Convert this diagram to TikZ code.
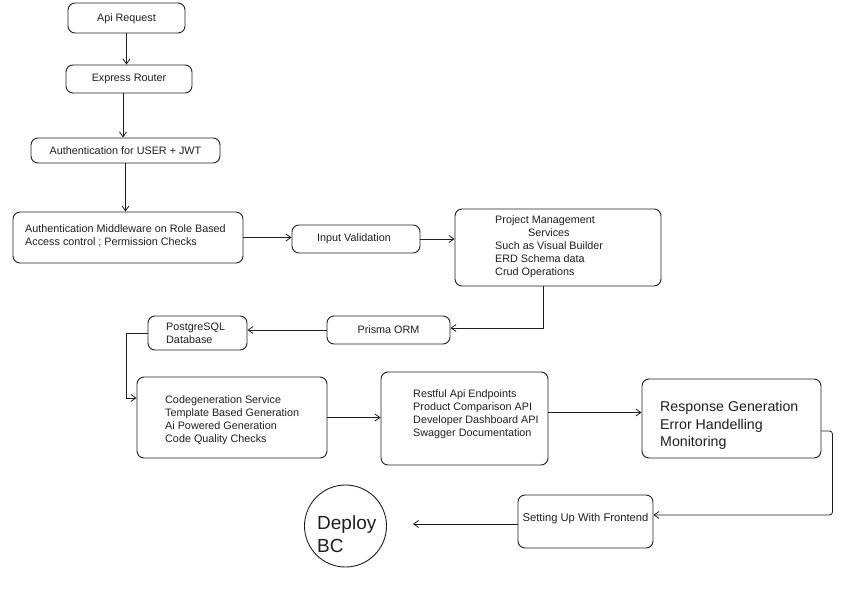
\documentclass[tikz,border=0pt]{standalone}
\usepackage{fontspec}
\setmainfont{Liberation Sans}
\usetikzlibrary{arrows.meta}
\definecolor{ink}{HTML}{1E1E1E}
\begin{document}
\begin{tikzpicture}[x=1pt,y=-1pt,
  stepbox/.style={draw=ink, line width=0.9pt, rounded corners=7pt, rectangle, inner sep=0pt},
  roundbox/.style={draw=ink, line width=0.9pt, circle, inner sep=0pt},
  txt/.style={text=ink, inner sep=0pt, font=\fontsize{10.8}{13}\selectfont, align=left},
  arr/.style={draw=ink, line width=0.8pt, -{Straight Barb[length=5pt,width=7pt]}}]
\useasboundingbox (0,0) rectangle (868,592);

% request pipeline
\node[stepbox, minimum width=117pt, minimum height=30pt] (api) at (126.5,18) {};
\node[txt] (api-t) at (126.5,19) {Api Request};
\node[stepbox, minimum width=126pt, minimum height=28pt] (express) at (129,79) {};
\node[txt] (express-t) at (129,79) {Express Router};
\node[stepbox, minimum width=189pt, minimum height=25pt] (jwt) at (125.5,150.5) {};
\node[txt] (jwt-t) at (125.5,150.5) {Authentication for USER + JWT};
\node[stepbox, minimum width=230pt, minimum height=51pt] (rbac) at (128,237.5) {};
\node[txt, anchor=west] (rbac-t) at (25,235.5) {Authentication Middleware on Role Based\\Access control ; Permission Checks};
\node[stepbox, minimum width=128pt, minimum height=28pt] (valid) at (356,239) {};
\node[txt] (valid-t) at (354,238.5) {Input Validation};
\node[stepbox, minimum width=206pt, minimum height=77pt] (pm) at (558,247.5) {};
\node[txt, anchor=west] (pm-t) at (495,246.5) {Project Management\\\hspace*{33pt}Services\\Such as Visual Builder\\ERD Schema data\\Crud Operations};

% data layer
\node[stepbox, minimum width=123pt, minimum height=28pt] (prisma) at (388.5,330) {};
\node[txt] (prisma-t) at (388.5,330) {Prisma ORM};
\node[stepbox, minimum width=99pt, minimum height=34pt] (pg) at (197.5,333) {};
\node[txt, anchor=west] (pg-t) at (166,333.5) {PostgreSQL\\Database};

% services
\node[stepbox, minimum width=190pt, minimum height=81pt] (codegen) at (232,417.5) {};
\node[txt, anchor=west] (codegen-t) at (165,420.5) {Codegeneration Service\\Template Based Generation\\Ai Powered Generation\\Code Quality Checks};
\node[stepbox, minimum width=167pt, minimum height=93pt] (rest) at (464.5,418.5) {};
\node[txt, anchor=west] (rest-t) at (413,414.5) {Restful Api Endpoints\\Product Comparison API\\Developer Dashboard API\\Swagger Documentation};
\node[stepbox, minimum width=179pt, minimum height=79pt] (resp) at (731.5,418.5) {};
\node[txt, anchor=west, font=\fontsize{14.2}{17.5}\selectfont] (resp-t) at (660,425.5) {Response Generation\\Error Handelling\\Monitoring};

% delivery
\node[stepbox, minimum width=135pt, minimum height=53pt] (setup) at (585.5,521.5) {};
\node[txt, font=\fontsize{11.2}{13}\selectfont] (setup-t) at (585.5,518.5) {Setting Up With Frontend};
\node[roundbox, minimum size=82pt] (deploy) at (345.5,526) {};
\node[txt, anchor=west, font=\fontsize{19}{23}\selectfont] (deploy-t) at (317,534) {Deploy\\BC};

% connectors
\draw[arr] (api.south) -- (api.south |- express.north);
\draw[arr] ([xshift=-6pt]express.south) -- ([xshift=-6pt]express.south |- jwt.north);
\draw[arr] (jwt.south) -- (jwt.south |- rbac.north);
\draw[arr] (rbac.east) -- (rbac.east -| valid.west);
\draw[arr] (valid.east) -- (valid.east -| pm.west);
\draw[arr] ([xshift=-15pt]pm.south) |- ([yshift=2pt]prisma.east);
\draw[arr] (prisma.west) -- (prisma.west -| pg.east);
\draw[arr] (pg.west) -- ++(-21,0) |- ([yshift=19.5pt]codegen.west);
\draw[arr] (codegen.east) -- (codegen.east -| rest.west);
\draw[arr] ([yshift=6pt]rest.east) -- ([yshift=6pt]rest.east -| resp.west);
\draw[arr, rounded corners=3pt] ([yshift=-12.5pt]resp.east) -- ++(11,0) |- ([yshift=6.5pt]setup.east);
\draw[arr, shorten >=26pt] ([yshift=-2.5pt]setup.west) -- ([yshift=-2.5pt]setup.west -| deploy.east);
\end{tikzpicture}
\end{document}
